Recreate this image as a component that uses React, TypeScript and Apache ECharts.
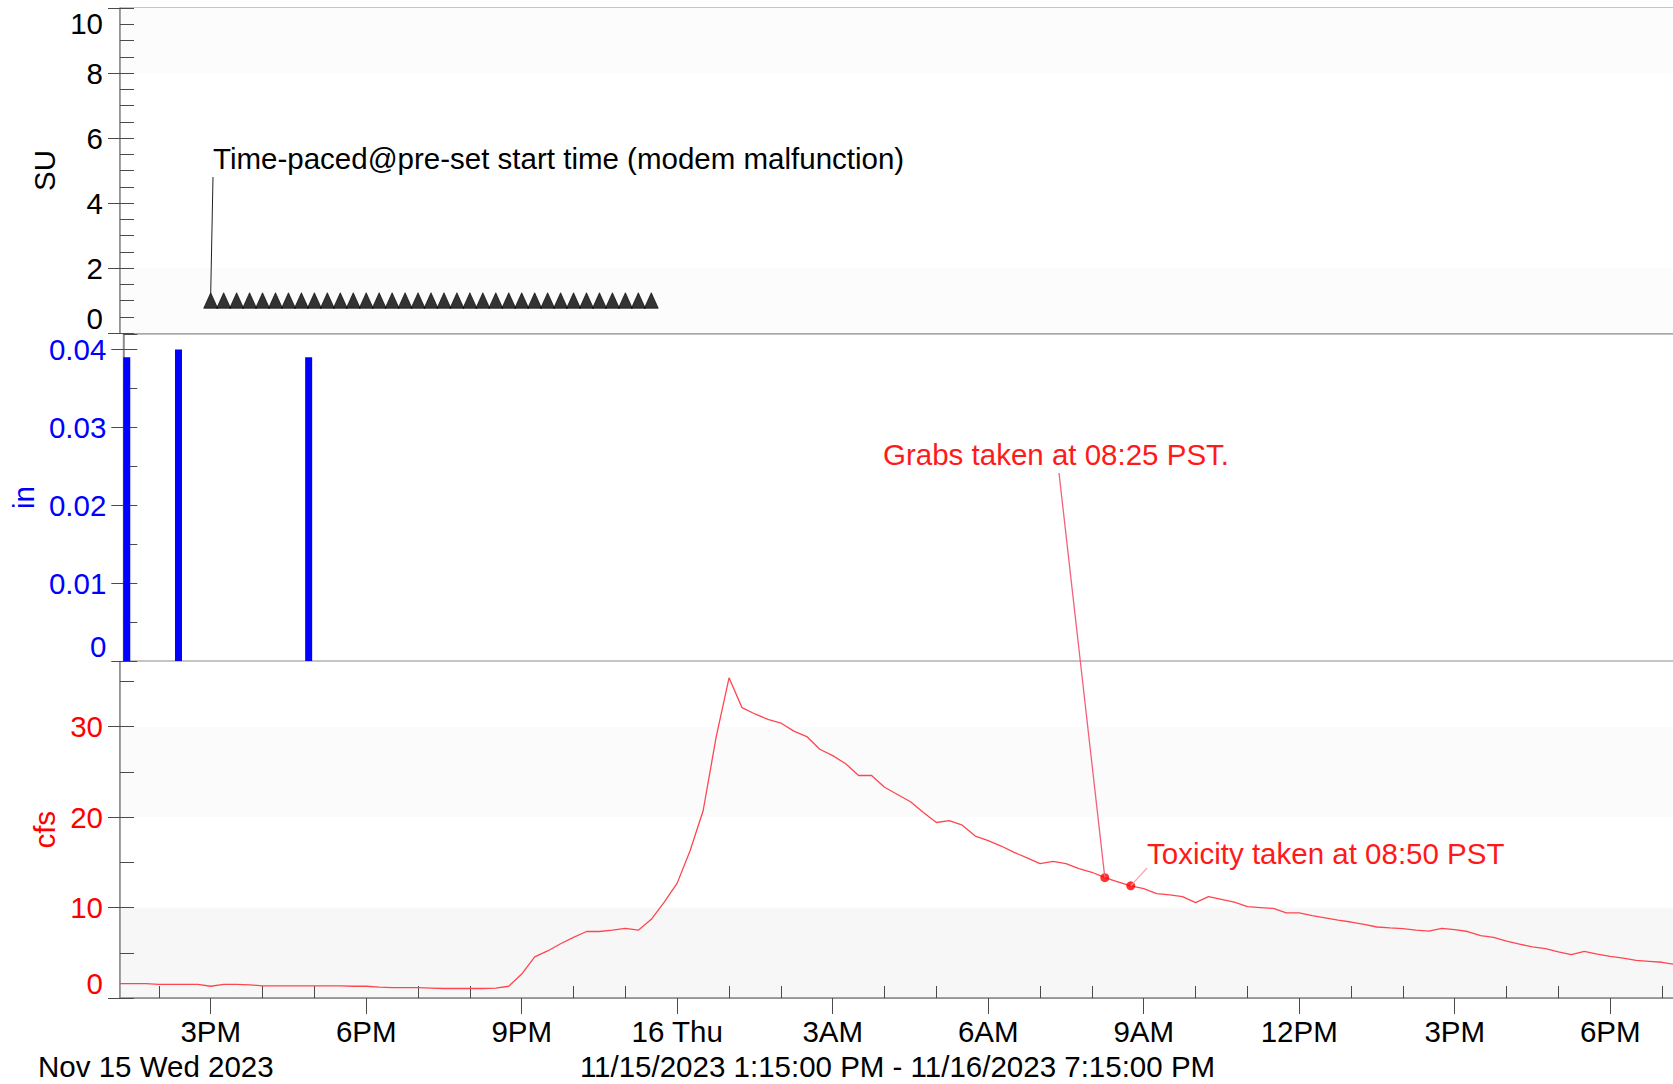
import React, { useEffect, useRef } from 'react';
import * as echarts from 'echarts';

// ---------- data ----------
const axisStart = '2023-11-15 13:15';
const axisEnd = '2023-11-16 19:15';
const stepMinutes = 5;

const flowStart = '2023-11-15 13:15';
const flowStepMinutes = 15;
const flowValues = [
  1.6, 1.6, 1.6, 1.5, 1.5, 1.5, 1.5, 1.3, 1.5, 1.5, 1.45, 1.35, 1.35, 1.35, 1.35, 1.35,
  1.33, 1.33, 1.3, 1.3, 1.2, 1.15, 1.15, 1.15, 1.1, 1.05, 1.05, 1.05, 1.05, 1.1, 1.3,
  2.65, 4.55, 5.2, 6.0, 6.7, 7.35, 7.35, 7.5, 7.7, 7.5, 8.7, 10.6, 12.7, 16.3, 20.7, 28.8,
  35.4, 32.1, 31.4, 30.8, 30.4, 29.5, 28.9, 27.5, 26.8, 25.9, 24.6, 24.6, 23.3, 22.5, 21.7,
  20.5, 19.4, 19.6, 19.1, 17.9, 17.4, 16.8, 16.1, 15.5, 14.85, 15.1, 14.85, 14.3, 13.9,
  13.3, 12.85, 12.4, 12.1, 11.55, 11.4, 11.2, 10.55, 11.2, 10.9, 10.6, 10.1, 10.0, 9.9,
  9.4, 9.4, 9.1, 8.85, 8.6, 8.4, 8.15, 7.85, 7.75, 7.68, 7.5, 7.4, 7.7, 7.55, 7.35, 6.9,
  6.7, 6.3, 5.95, 5.66, 5.45, 5.1, 4.8, 5.15, 4.85, 4.6, 4.4, 4.15, 4.05, 3.95, 3.7,
];

const rainTimes = ['2023-11-15 13:19', '2023-11-15 14:19', '2023-11-15 16:50'];
const rainValues = [0.039, 0.04, 0.039];

const sampleTimes = [
  '2023-11-15 15:00', '2023-11-15 15:15', '2023-11-15 15:30', '2023-11-15 15:45',
  '2023-11-15 16:00', '2023-11-15 16:15', '2023-11-15 16:30', '2023-11-15 16:45',
  '2023-11-15 17:00', '2023-11-15 17:15', '2023-11-15 17:30', '2023-11-15 17:45',
  '2023-11-15 18:00', '2023-11-15 18:15', '2023-11-15 18:30', '2023-11-15 18:45',
  '2023-11-15 19:00', '2023-11-15 19:15', '2023-11-15 19:30', '2023-11-15 19:45',
  '2023-11-15 20:00', '2023-11-15 20:15', '2023-11-15 20:30', '2023-11-15 20:45',
  '2023-11-15 21:00', '2023-11-15 21:15', '2023-11-15 21:30', '2023-11-15 21:45',
  '2023-11-15 22:00', '2023-11-15 22:15', '2023-11-15 22:30', '2023-11-15 22:45',
  '2023-11-15 23:00', '2023-11-15 23:15', '2023-11-15 23:30',
];
const sampleLevel = 1;

const markTimes = ['2023-11-16 08:15', '2023-11-16 08:45'];

const suAxis = { min: 0, max: 10, major: 2, minor: 0.5 };
const inAxis = { min: 0, max: 0.042, major: 0.01, minor: 0.005 };
const cfsAxis = { min: 0, max: 37.2, major: 10, minor: 5 };

const dayNames = ['Sun', 'Mon', 'Tue', 'Wed', 'Thu', 'Fri', 'Sat'];
const rangeText = '11/15/2023 1:15:00 PM - 11/16/2023 7:15:00 PM';
const dateText = 'Nov 15 Wed 2023';
const noteSample = 'Time-paced@pre-set start time (modem malfunction)';
const noteGrab = 'Grabs taken at 08:25 PST.';
const noteTox = 'Toxicity taken at 08:50 PST';

// ---------- helpers ----------
function toMs(s: string) {
  const [d, t] = s.split(' ');
  const [Y, M, D] = d.split('-').map(Number);
  const [h, m] = t.split(':').map(Number);
  return Date.UTC(Y, M - 1, D, h, m);
}
const startMs = toMs(axisStart);
const stepMs = stepMinutes * 60000;
const posOf = (s: string) => (toMs(s) - startMs) / stepMs;
const idxOf = (s: string) => Math.round(posOf(s));
const nCats = idxOf(axisEnd) + 1;
const categories = Array.from({ length: nCats }, (_, i) => String(startMs + i * stepMs));
const catDate = (i: number) => new Date(startMs + i * stepMs);
const isMajor = (i: number) => {
  const d = catDate(i);
  return d.getUTCMinutes() === 0 && d.getUTCHours() % 3 === 0;
};
const isHourMinor = (i: number) => {
  const d = catDate(i);
  return d.getUTCMinutes() === 0 && d.getUTCHours() % 3 !== 0;
};
const tickLabel = (i: number) => {
  const d = catDate(i);
  const h = d.getUTCHours();
  if (h === 0) return `${d.getUTCDate()} ${dayNames[d.getUTCDay()]}`;
  const h12 = h % 12 === 0 ? 12 : h % 12;
  return `${h12}${h < 12 ? 'AM' : 'PM'}`;
};

const flowIdx0 = idxOf(flowStart);
const flowRatio = flowStepMinutes / stepMinutes;
const flowData = flowValues.map((v, k) => [flowIdx0 + k * flowRatio, v]);
const markData = markTimes.map((t) => {
  const k = Math.round((toMs(t) - toMs(flowStart)) / (flowStepMinutes * 60000));
  return [idxOf(t), flowValues[k]];
});

const FONT = '"Liberation Sans", Arial, Helvetica, sans-serif';
const FS = 29.5;
const AXIS_GRAY = '#858585';
const TICK = '#4a4a4a';
const BLUE = '#0000ff';
const RED = '#ff0000';
const RAIN_BAR_W = 7;

function yMain(gi: number, ax: any, color: string, name: string, nameGap: number, extra: any, area: any) {
  return {
    type: 'value', gridIndex: gi, position: 'left',
    min: ax.min, max: ax.max, interval: ax.major,
    axisLine: { show: true, lineStyle: { color: AXIS_GRAY, width: 1.5 } },
    axisTick: { show: true, length: 12, lineStyle: { color: TICK, width: 1 } },
    axisLabel: { color, fontSize: FS, fontFamily: FONT, margin: 17, ...extra },
    splitLine: { show: false },
    splitArea: area,
    name, nameLocation: 'middle', nameGap,
    nameTextStyle: { color, fontSize: FS, fontFamily: FONT },
  };
}
function yMinor(gi: number, ax: any) {
  return {
    type: 'value', gridIndex: gi, position: 'left',
    min: ax.min, max: ax.max, interval: ax.minor,
    axisLine: { show: false },
    axisTick: { show: true, inside: true, length: 14, lineStyle: { color: TICK, width: 1 } },
    axisLabel: { show: false },
    splitLine: { show: false },
  };
}

const gridBase = {
  left: 120, right: 0, show: true, borderColor: '#8a8a8a', borderWidth: 1,
  backgroundColor: 'transparent', containLabel: false,
};
const catBase = { type: 'category', data: categories, boundaryGap: false };
const idxValueAxis = (gi: number) => ({ type: 'value', gridIndex: gi, min: 0, max: nCats - 1, show: false });

const option: any = {
  animation: false,
  backgroundColor: '#ffffff',
  textStyle: { fontFamily: FONT },
  grid: [
    { ...gridBase, top: 8, height: 325 },
    { ...gridBase, top: 334, height: 327 },
    { ...gridBase, top: 661.5, height: 336.5 },
  ],
  xAxis: [
    idxValueAxis(0),
    idxValueAxis(1),
    {
      ...catBase, gridIndex: 2, position: 'bottom',
      axisLine: { onZero: false, lineStyle: { color: AXIS_GRAY, width: 1.5 } },
      axisTick: { interval: (i: number) => isMajor(i), length: 16, lineStyle: { color: TICK, width: 1 } },
      axisLabel: {
        interval: (i: number) => isMajor(i),
        formatter: (_v: any, i: number) => tickLabel(i),
        color: '#000', fontSize: FS, fontFamily: FONT, margin: 18,
      },
      splitLine: { show: false },
      name: rangeText, nameLocation: 'middle', nameGap: 53,
      nameTextStyle: { color: '#000', fontSize: FS, fontFamily: FONT },
    },
    {
      ...catBase, gridIndex: 2, position: 'bottom',
      axisLine: { show: false, onZero: false },
      axisTick: { interval: (i: number) => isHourMinor(i), inside: true, length: 12, lineStyle: { color: TICK, width: 1 } },
      axisLabel: { show: false },
      splitLine: { show: false },
    },
  ],
  yAxis: [
    yMain(0, suAxis, '#000', 'SU', 55, { verticalAlignMinLabel: 'bottom', verticalAlignMaxLabel: 'top' },
      { show: true, areaStyle: { color: ['#fcfcfc', '#ffffff', '#ffffff', '#ffffff', '#fcfcfc'] } }),
    yMinor(0, suAxis),
    yMain(1, inAxis, BLUE, 'in', 83, { verticalAlignMinLabel: 'bottom', showMaxLabel: false },
      { show: false }),
    yMinor(1, inAxis),
    yMain(2, cfsAxis, RED, 'cfs', 55, { verticalAlignMinLabel: 'bottom', showMaxLabel: false },
      { show: true, areaStyle: { color: ['#f7f7f7', '#ffffff', '#fbfbfb', '#ffffff'] } }),
    yMinor(2, cfsAxis),
  ],
  series: [
    {
      type: 'scatter', xAxisIndex: 0, yAxisIndex: 0, symbol: 'triangle', symbolSize: [14, 15.5],
      itemStyle: { color: '#000', borderColor: '#000', borderWidth: 0.8 }, silent: true,
      data: sampleTimes.map((t) => [posOf(t), sampleLevel]),
    },
    {
      type: 'custom', xAxisIndex: 1, yAxisIndex: 2, silent: true,
      encode: { x: 0, y: 1 },
      data: rainTimes.map((t, k) => [posOf(t), rainValues[k]]),
      renderItem: (_params: any, api: any) => {
        const top = api.coord([api.value(0), api.value(1)]);
        const base = api.coord([api.value(0), 0]);
        return {
          type: 'rect',
          shape: { x: top[0] - RAIN_BAR_W / 2, y: top[1], width: RAIN_BAR_W, height: base[1] - top[1] },
          style: { fill: BLUE },
        };
      },
    },
    {
      type: 'line', xAxisIndex: 2, yAxisIndex: 4, showSymbol: false, symbol: 'none', silent: true,
      lineStyle: { color: '#ff4650', width: 1.3 },
      data: flowData,
    },
    {
      type: 'scatter', xAxisIndex: 2, yAxisIndex: 4, symbol: 'circle', symbolSize: 9, silent: true,
      itemStyle: { color: RED }, z: 5,
      data: markData,
    },
  ],
};

export default function App() {
  const ref = useRef<HTMLDivElement>(null);
  useEffect(() => {
    if (!ref.current) return;
    const chart = echarts.init(ref.current, null, { renderer: 'svg' });
    chart.setOption(option);
    const pS = chart.convertToPixel({ seriesIndex: 0 }, [posOf(sampleTimes[0]), sampleLevel]) as number[];
    const pG = chart.convertToPixel({ seriesIndex: 3 }, markData[0]) as number[];
    const pT = chart.convertToPixel({ seriesIndex: 3 }, markData[1]) as number[];
    const txt = (text: string, x: number, y: number, fill: string) => ({
      type: 'text', x, y, z: 100, silent: true,
      style: { text, fill, fontSize: FS, fontFamily: FONT, verticalAlign: 'middle', align: 'left' },
    });
    const line = (x1: number, y1: number, x2: number, y2: number, stroke: string, w: number) => ({
      type: 'line', z: 99, silent: true,
      shape: { x1, y1, x2, y2 },
      style: { stroke, lineWidth: w },
    });
    chart.setOption({
      graphic: [
        txt(noteSample, 213, 158, '#000'),
        line(213, 177, pS[0], pS[1] - 7, '#222', 1),
        txt(noteGrab, 883, 454, '#ff1a1a'),
        line(1059, 473, pG[0], pG[1], '#f4607c', 1.3),
        txt(noteTox, 1147, 853, '#ff1a1a'),
        line(pT[0], pT[1], 1147, 868, '#ff9fb0', 1.2),
        txt(dateText, 38, 1066, '#000'),
      ],
    });
    return () => chart.dispose();
  }, []);
  return (
    <div style={{ position: 'absolute', left: 0, top: 0, width: 1673, height: 1084, overflow: 'hidden', background: '#fff' }}>
      <div ref={ref} style={{ width: 1675, height: 1084 }} />
    </div>
  );
}
